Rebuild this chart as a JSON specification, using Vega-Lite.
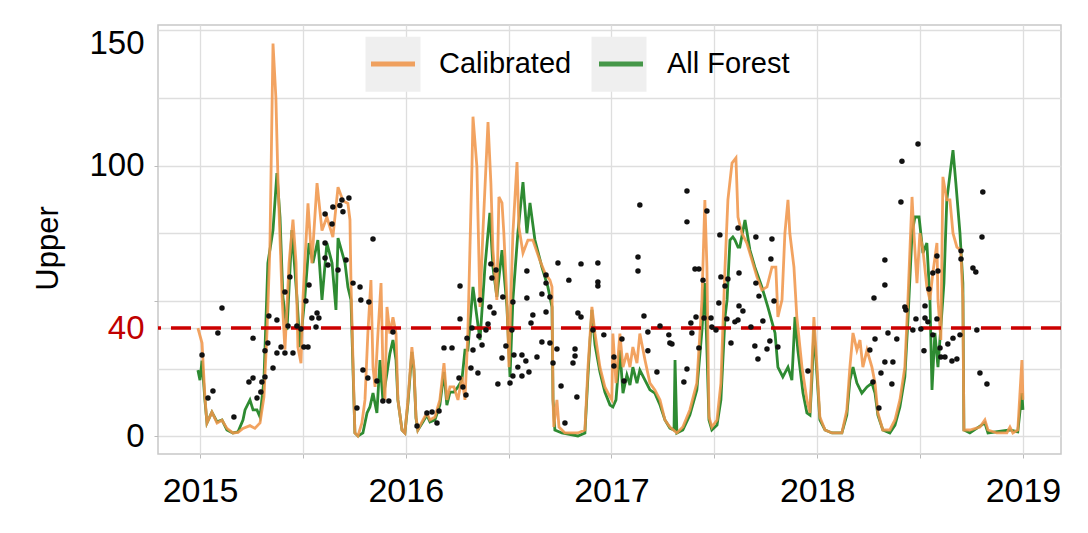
{
"$schema": "https://vega.github.io/schema/vega-lite/v6.json",
"width": 903, "height": 429,
"autosize": {"type": "none"},
"padding": {"left": 158, "top": 25, "right": 27, "bottom": 79},
"background": "white",
"config": {"view": {"stroke": "#c8c8c8", "strokeWidth": 1.5}, "font": "Liberation Sans"},
"datasets": {
"lines": [
{"s":"Calibrated","t":2014.990,"v":40},{"s":"Calibrated","t":2015.010,"v":34.5},{"s":"Calibrated","t":2015.024,"v":14.6},{"s":"Calibrated","t":2015.034,"v":5},{"s":"Calibrated","t":2015.058,"v":9},{"s":"Calibrated","t":2015.083,"v":5},{"s":"Calibrated","t":2015.107,"v":6},{"s":"Calibrated","t":2015.131,"v":3},{"s":"Calibrated","t":2015.160,"v":1.3},{"s":"Calibrated","t":2015.185,"v":1.5},{"s":"Calibrated","t":2015.209,"v":3},{"s":"Calibrated","t":2015.243,"v":4},{"s":"Calibrated","t":2015.267,"v":3},{"s":"Calibrated","t":2015.292,"v":5},{"s":"Calibrated","t":2015.311,"v":14.6},{"s":"Calibrated","t":2015.326,"v":39},{"s":"Calibrated","t":2015.340,"v":70},{"s":"Calibrated","t":2015.355,"v":145},{"s":"Calibrated","t":2015.369,"v":125},{"s":"Calibrated","t":2015.379,"v":95},{"s":"Calibrated","t":2015.399,"v":51.5},{"s":"Calibrated","t":2015.413,"v":32},{"s":"Calibrated","t":2015.433,"v":64},{"s":"Calibrated","t":2015.452,"v":80},{"s":"Calibrated","t":2015.467,"v":64},{"s":"Calibrated","t":2015.476,"v":33},{"s":"Calibrated","t":2015.491,"v":27},{"s":"Calibrated","t":2015.501,"v":51.5},{"s":"Calibrated","t":2015.525,"v":86},{"s":"Calibrated","t":2015.544,"v":64},{"s":"Calibrated","t":2015.569,"v":93.5},{"s":"Calibrated","t":2015.593,"v":76},{"s":"Calibrated","t":2015.617,"v":81},{"s":"Calibrated","t":2015.646,"v":73.6},{"s":"Calibrated","t":2015.671,"v":92},{"s":"Calibrated","t":2015.695,"v":87},{"s":"Calibrated","t":2015.719,"v":86},{"s":"Calibrated","t":2015.729,"v":80},{"s":"Calibrated","t":2015.734,"v":56.6},{"s":"Calibrated","t":2015.744,"v":27},{"s":"Calibrated","t":2015.753,"v":1.3},{"s":"Calibrated","t":2015.768,"v":0.2},{"s":"Calibrated","t":2015.787,"v":5},{"s":"Calibrated","t":2015.802,"v":13.5},{"s":"Calibrated","t":2015.816,"v":38},{"s":"Calibrated","t":2015.831,"v":57.7},{"s":"Calibrated","t":2015.841,"v":25.6},{"s":"Calibrated","t":2015.851,"v":18.3},{"s":"Calibrated","t":2015.865,"v":38},{"s":"Calibrated","t":2015.880,"v":56.6},{"s":"Calibrated","t":2015.889,"v":25.6},{"s":"Calibrated","t":2015.899,"v":13.5},{"s":"Calibrated","t":2015.909,"v":47.8},{"s":"Calibrated","t":2015.923,"v":38},{"s":"Calibrated","t":2015.938,"v":44},{"s":"Calibrated","t":2015.953,"v":38},{"s":"Calibrated","t":2015.962,"v":13.5},{"s":"Calibrated","t":2015.982,"v":2.4},{"s":"Calibrated","t":2015.996,"v":1.3},{"s":"Calibrated","t":2016.011,"v":13.5},{"s":"Calibrated","t":2016.030,"v":33},{"s":"Calibrated","t":2016.040,"v":25.6},{"s":"Calibrated","t":2016.050,"v":7.2},{"s":"Calibrated","t":2016.059,"v":2.4},{"s":"Calibrated","t":2016.084,"v":6.1},{"s":"Calibrated","t":2016.103,"v":8.7},{"s":"Calibrated","t":2016.118,"v":6.1},{"s":"Calibrated","t":2016.142,"v":7.2},{"s":"Calibrated","t":2016.166,"v":13.5},{"s":"Calibrated","t":2016.186,"v":27.1},{"s":"Calibrated","t":2016.200,"v":13.5},{"s":"Calibrated","t":2016.215,"v":18.3},{"s":"Calibrated","t":2016.234,"v":18.3},{"s":"Calibrated","t":2016.254,"v":13.5},{"s":"Calibrated","t":2016.273,"v":22},{"s":"Calibrated","t":2016.288,"v":13.5},{"s":"Calibrated","t":2016.302,"v":38},{"s":"Calibrated","t":2016.322,"v":99.5},{"s":"Calibrated","t":2016.327,"v":118},{"s":"Calibrated","t":2016.346,"v":99.5},{"s":"Calibrated","t":2016.361,"v":47.8},{"s":"Calibrated","t":2016.375,"v":75},{"s":"Calibrated","t":2016.400,"v":116},{"s":"Calibrated","t":2016.414,"v":93.5},{"s":"Calibrated","t":2016.424,"v":68.8},{"s":"Calibrated","t":2016.443,"v":50.4},{"s":"Calibrated","t":2016.453,"v":88.4},{"s":"Calibrated","t":2016.468,"v":86.2},{"s":"Calibrated","t":2016.477,"v":75},{"s":"Calibrated","t":2016.492,"v":50.4},{"s":"Calibrated","t":2016.502,"v":25.6},{"s":"Calibrated","t":2016.511,"v":50.4},{"s":"Calibrated","t":2016.521,"v":75},{"s":"Calibrated","t":2016.541,"v":101.3},{"s":"Calibrated","t":2016.550,"v":77.3},{"s":"Calibrated","t":2016.570,"v":67.7},{"s":"Calibrated","t":2016.594,"v":72.5},{"s":"Calibrated","t":2016.618,"v":72.5},{"s":"Calibrated","t":2016.652,"v":65},{"s":"Calibrated","t":2016.677,"v":60.3},{"s":"Calibrated","t":2016.701,"v":57.7},{"s":"Calibrated","t":2016.711,"v":55.2},{"s":"Calibrated","t":2016.716,"v":13.5},{"s":"Calibrated","t":2016.720,"v":3.5},{"s":"Calibrated","t":2016.735,"v":13.5},{"s":"Calibrated","t":2016.745,"v":3.5},{"s":"Calibrated","t":2016.774,"v":1.3},{"s":"Calibrated","t":2016.837,"v":1.3},{"s":"Calibrated","t":2016.871,"v":2.4},{"s":"Calibrated","t":2016.886,"v":25.6},{"s":"Calibrated","t":2016.905,"v":47.8},{"s":"Calibrated","t":2016.920,"v":38},{"s":"Calibrated","t":2016.944,"v":25.6},{"s":"Calibrated","t":2016.968,"v":18.3},{"s":"Calibrated","t":2016.993,"v":14.6},{"s":"Calibrated","t":2017.002,"v":13.5},{"s":"Calibrated","t":2017.007,"v":38},{"s":"Calibrated","t":2017.022,"v":19.7},{"s":"Calibrated","t":2017.041,"v":38},{"s":"Calibrated","t":2017.056,"v":25.6},{"s":"Calibrated","t":2017.075,"v":30.8},{"s":"Calibrated","t":2017.090,"v":25.6},{"s":"Calibrated","t":2017.104,"v":33},{"s":"Calibrated","t":2017.124,"v":27.1},{"s":"Calibrated","t":2017.138,"v":38},{"s":"Calibrated","t":2017.163,"v":28.2},{"s":"Calibrated","t":2017.187,"v":19.7},{"s":"Calibrated","t":2017.211,"v":17.2},{"s":"Calibrated","t":2017.236,"v":13.5},{"s":"Calibrated","t":2017.260,"v":6.1},{"s":"Calibrated","t":2017.284,"v":3.5},{"s":"Calibrated","t":2017.318,"v":1.3},{"s":"Calibrated","t":2017.347,"v":3.5},{"s":"Calibrated","t":2017.381,"v":9.8},{"s":"Calibrated","t":2017.415,"v":19.7},{"s":"Calibrated","t":2017.440,"v":50.4},{"s":"Calibrated","t":2017.454,"v":87.3},{"s":"Calibrated","t":2017.464,"v":62.5},{"s":"Calibrated","t":2017.474,"v":7.2},{"s":"Calibrated","t":2017.488,"v":3.5},{"s":"Calibrated","t":2017.513,"v":6.1},{"s":"Calibrated","t":2017.532,"v":19.7},{"s":"Calibrated","t":2017.552,"v":62.5},{"s":"Calibrated","t":2017.566,"v":87.3},{"s":"Calibrated","t":2017.586,"v":100.9},{"s":"Calibrated","t":2017.605,"v":102.8},{"s":"Calibrated","t":2017.615,"v":81},{"s":"Calibrated","t":2017.634,"v":75},{"s":"Calibrated","t":2017.658,"v":71.4},{"s":"Calibrated","t":2017.683,"v":65.1},{"s":"Calibrated","t":2017.707,"v":58.9},{"s":"Calibrated","t":2017.731,"v":54.1},{"s":"Calibrated","t":2017.756,"v":55.2},{"s":"Calibrated","t":2017.780,"v":62.5},{"s":"Calibrated","t":2017.799,"v":62.5},{"s":"Calibrated","t":2017.809,"v":44.1},{"s":"Calibrated","t":2017.829,"v":50.4},{"s":"Calibrated","t":2017.843,"v":75},{"s":"Calibrated","t":2017.858,"v":87.3},{"s":"Calibrated","t":2017.867,"v":75},{"s":"Calibrated","t":2017.887,"v":62.5},{"s":"Calibrated","t":2017.901,"v":44.1},{"s":"Calibrated","t":2017.926,"v":25.6},{"s":"Calibrated","t":2017.950,"v":13.5},{"s":"Calibrated","t":2017.965,"v":8.7},{"s":"Calibrated","t":2017.974,"v":25.6},{"s":"Calibrated","t":2017.984,"v":44.1},{"s":"Calibrated","t":2017.999,"v":25.6},{"s":"Calibrated","t":2018.013,"v":7.2},{"s":"Calibrated","t":2018.038,"v":2.4},{"s":"Calibrated","t":2018.072,"v":1.3},{"s":"Calibrated","t":2018.120,"v":1.3},{"s":"Calibrated","t":2018.144,"v":9.8},{"s":"Calibrated","t":2018.159,"v":25.6},{"s":"Calibrated","t":2018.174,"v":38.2},{"s":"Calibrated","t":2018.193,"v":31.9},{"s":"Calibrated","t":2018.208,"v":35.6},{"s":"Calibrated","t":2018.222,"v":25.6},{"s":"Calibrated","t":2018.242,"v":31.9},{"s":"Calibrated","t":2018.266,"v":25.6},{"s":"Calibrated","t":2018.281,"v":19.7},{"s":"Calibrated","t":2018.295,"v":8.7},{"s":"Calibrated","t":2018.319,"v":2.4},{"s":"Calibrated","t":2018.353,"v":2.4},{"s":"Calibrated","t":2018.378,"v":6.1},{"s":"Calibrated","t":2018.402,"v":13.5},{"s":"Calibrated","t":2018.426,"v":25.6},{"s":"Calibrated","t":2018.441,"v":50.4},{"s":"Calibrated","t":2018.461,"v":88.4},{"s":"Calibrated","t":2018.470,"v":75},{"s":"Calibrated","t":2018.485,"v":56.6},{"s":"Calibrated","t":2018.499,"v":75},{"s":"Calibrated","t":2018.514,"v":68.8},{"s":"Calibrated","t":2018.533,"v":55.2},{"s":"Calibrated","t":2018.548,"v":50.4},{"s":"Calibrated","t":2018.562,"v":60.3},{"s":"Calibrated","t":2018.582,"v":71.4},{"s":"Calibrated","t":2018.587,"v":50.4},{"s":"Calibrated","t":2018.601,"v":35.6},{"s":"Calibrated","t":2018.611,"v":95.8},{"s":"Calibrated","t":2018.630,"v":87.3},{"s":"Calibrated","t":2018.645,"v":87.3},{"s":"Calibrated","t":2018.660,"v":75},{"s":"Calibrated","t":2018.679,"v":69.9},{"s":"Calibrated","t":2018.698,"v":68.8},{"s":"Calibrated","t":2018.708,"v":50.4},{"s":"Calibrated","t":2018.713,"v":2.4},{"s":"Calibrated","t":2018.742,"v":2.4},{"s":"Calibrated","t":2018.791,"v":3.5},{"s":"Calibrated","t":2018.815,"v":6.1},{"s":"Calibrated","t":2018.830,"v":2.4},{"s":"Calibrated","t":2018.873,"v":1.3},{"s":"Calibrated","t":2018.922,"v":1.3},{"s":"Calibrated","t":2018.937,"v":3.5},{"s":"Calibrated","t":2018.951,"v":1.3},{"s":"Calibrated","t":2018.975,"v":2.4},{"s":"Calibrated","t":2018.995,"v":28.2},{"s":"Calibrated","t":2019.000,"v":13.5},
{"s":"All Forest","t":2014.990,"v":24.5},{"s":"All Forest","t":2015.000,"v":20.8},{"s":"All Forest","t":2015.010,"v":28},{"s":"All Forest","t":2015.024,"v":13.5},{"s":"All Forest","t":2015.034,"v":5},{"s":"All Forest","t":2015.058,"v":9},{"s":"All Forest","t":2015.083,"v":5.4},{"s":"All Forest","t":2015.107,"v":6.1},{"s":"All Forest","t":2015.131,"v":2.4},{"s":"All Forest","t":2015.160,"v":1.3},{"s":"All Forest","t":2015.185,"v":1.7},{"s":"All Forest","t":2015.209,"v":6.1},{"s":"All Forest","t":2015.219,"v":9.8},{"s":"All Forest","t":2015.243,"v":13.5},{"s":"All Forest","t":2015.258,"v":9.8},{"s":"All Forest","t":2015.277,"v":9.8},{"s":"All Forest","t":2015.292,"v":7.2},{"s":"All Forest","t":2015.311,"v":20.8},{"s":"All Forest","t":2015.330,"v":64},{"s":"All Forest","t":2015.355,"v":76.2},{"s":"All Forest","t":2015.374,"v":97.2},{"s":"All Forest","t":2015.389,"v":81},{"s":"All Forest","t":2015.403,"v":51.5},{"s":"All Forest","t":2015.423,"v":39.3},{"s":"All Forest","t":2015.447,"v":76.2},{"s":"All Forest","t":2015.471,"v":51.5},{"s":"All Forest","t":2015.486,"v":33},{"s":"All Forest","t":2015.510,"v":51.5},{"s":"All Forest","t":2015.530,"v":71.4},{"s":"All Forest","t":2015.549,"v":64},{"s":"All Forest","t":2015.573,"v":72.5},{"s":"All Forest","t":2015.593,"v":50.4},{"s":"All Forest","t":2015.617,"v":71.4},{"s":"All Forest","t":2015.642,"v":64},{"s":"All Forest","t":2015.661,"v":46.7},{"s":"All Forest","t":2015.671,"v":73.2},{"s":"All Forest","t":2015.705,"v":64},{"s":"All Forest","t":2015.719,"v":55.2},{"s":"All Forest","t":2015.734,"v":50.4},{"s":"All Forest","t":2015.744,"v":24.5},{"s":"All Forest","t":2015.753,"v":1.3},{"s":"All Forest","t":2015.768,"v":0.2},{"s":"All Forest","t":2015.792,"v":1.3},{"s":"All Forest","t":2015.812,"v":8.7},{"s":"All Forest","t":2015.826,"v":10.9},{"s":"All Forest","t":2015.841,"v":16},{"s":"All Forest","t":2015.860,"v":8.7},{"s":"All Forest","t":2015.875,"v":28.2},{"s":"All Forest","t":2015.889,"v":13.5},{"s":"All Forest","t":2015.909,"v":23.4},{"s":"All Forest","t":2015.923,"v":30.6},{"s":"All Forest","t":2015.938,"v":35.6},{"s":"All Forest","t":2015.953,"v":28.2},{"s":"All Forest","t":2015.962,"v":13.5},{"s":"All Forest","t":2015.982,"v":2.4},{"s":"All Forest","t":2015.996,"v":1.3},{"s":"All Forest","t":2016.011,"v":12.4},{"s":"All Forest","t":2016.030,"v":31.2},{"s":"All Forest","t":2016.040,"v":24.5},{"s":"All Forest","t":2016.050,"v":6.8},{"s":"All Forest","t":2016.059,"v":2.4},{"s":"All Forest","t":2016.084,"v":5.4},{"s":"All Forest","t":2016.103,"v":7.9},{"s":"All Forest","t":2016.118,"v":5.4},{"s":"All Forest","t":2016.142,"v":6.1},{"s":"All Forest","t":2016.166,"v":11.6},{"s":"All Forest","t":2016.186,"v":23.8},{"s":"All Forest","t":2016.200,"v":11.6},{"s":"All Forest","t":2016.215,"v":16.4},{"s":"All Forest","t":2016.234,"v":16.4},{"s":"All Forest","t":2016.254,"v":18.3},{"s":"All Forest","t":2016.273,"v":20.8},{"s":"All Forest","t":2016.288,"v":31.9},{"s":"All Forest","t":2016.302,"v":31.9},{"s":"All Forest","t":2016.327,"v":55.2},{"s":"All Forest","t":2016.346,"v":44.1},{"s":"All Forest","t":2016.361,"v":35.6},{"s":"All Forest","t":2016.385,"v":62.5},{"s":"All Forest","t":2016.409,"v":82.5},{"s":"All Forest","t":2016.424,"v":62.5},{"s":"All Forest","t":2016.443,"v":51.5},{"s":"All Forest","t":2016.468,"v":68.8},{"s":"All Forest","t":2016.492,"v":47.8},{"s":"All Forest","t":2016.507,"v":22},{"s":"All Forest","t":2016.521,"v":50.4},{"s":"All Forest","t":2016.545,"v":75},{"s":"All Forest","t":2016.570,"v":93.9},{"s":"All Forest","t":2016.589,"v":75},{"s":"All Forest","t":2016.604,"v":86.2},{"s":"All Forest","t":2016.628,"v":72.5},{"s":"All Forest","t":2016.662,"v":62.5},{"s":"All Forest","t":2016.691,"v":55.2},{"s":"All Forest","t":2016.711,"v":47.8},{"s":"All Forest","t":2016.716,"v":13.5},{"s":"All Forest","t":2016.725,"v":2.4},{"s":"All Forest","t":2016.759,"v":1.3},{"s":"All Forest","t":2016.837,"v":0.2},{"s":"All Forest","t":2016.871,"v":1.3},{"s":"All Forest","t":2016.886,"v":22.7},{"s":"All Forest","t":2016.905,"v":46.7},{"s":"All Forest","t":2016.920,"v":33.8},{"s":"All Forest","t":2016.944,"v":23.8},{"s":"All Forest","t":2016.968,"v":16.4},{"s":"All Forest","t":2016.993,"v":11.6},{"s":"All Forest","t":2017.007,"v":10.9},{"s":"All Forest","t":2017.022,"v":13.5},{"s":"All Forest","t":2017.041,"v":31.9},{"s":"All Forest","t":2017.056,"v":16},{"s":"All Forest","t":2017.075,"v":22.7},{"s":"All Forest","t":2017.090,"v":19},{"s":"All Forest","t":2017.104,"v":25.6},{"s":"All Forest","t":2017.124,"v":19.7},{"s":"All Forest","t":2017.138,"v":24.5},{"s":"All Forest","t":2017.163,"v":20.8},{"s":"All Forest","t":2017.187,"v":17.2},{"s":"All Forest","t":2017.211,"v":16},{"s":"All Forest","t":2017.236,"v":11.6},{"s":"All Forest","t":2017.260,"v":6.1},{"s":"All Forest","t":2017.284,"v":3.1},{"s":"All Forest","t":2017.304,"v":2.4},{"s":"All Forest","t":2017.309,"v":28.2},{"s":"All Forest","t":2017.318,"v":1.3},{"s":"All Forest","t":2017.347,"v":2.4},{"s":"All Forest","t":2017.381,"v":7.9},{"s":"All Forest","t":2017.415,"v":17.2},{"s":"All Forest","t":2017.440,"v":39.3},{"s":"All Forest","t":2017.454,"v":56.6},{"s":"All Forest","t":2017.464,"v":31.9},{"s":"All Forest","t":2017.474,"v":6.1},{"s":"All Forest","t":2017.488,"v":2.4},{"s":"All Forest","t":2017.513,"v":4.2},{"s":"All Forest","t":2017.532,"v":13.5},{"s":"All Forest","t":2017.552,"v":44.1},{"s":"All Forest","t":2017.562,"v":50.4},{"s":"All Forest","t":2017.576,"v":72.5},{"s":"All Forest","t":2017.590,"v":73.6},{"s":"All Forest","t":2017.600,"v":72.5},{"s":"All Forest","t":2017.615,"v":69.9},{"s":"All Forest","t":2017.624,"v":69.9},{"s":"All Forest","t":2017.649,"v":79.9},{"s":"All Forest","t":2017.673,"v":68.8},{"s":"All Forest","t":2017.697,"v":62.5},{"s":"All Forest","t":2017.731,"v":55.2},{"s":"All Forest","t":2017.760,"v":47.8},{"s":"All Forest","t":2017.795,"v":38.2},{"s":"All Forest","t":2017.809,"v":25.6},{"s":"All Forest","t":2017.833,"v":22},{"s":"All Forest","t":2017.858,"v":25.6},{"s":"All Forest","t":2017.877,"v":20.8},{"s":"All Forest","t":2017.892,"v":44.1},{"s":"All Forest","t":2017.906,"v":31.9},{"s":"All Forest","t":2017.931,"v":16},{"s":"All Forest","t":2017.950,"v":8.7},{"s":"All Forest","t":2017.965,"v":7.9},{"s":"All Forest","t":2017.974,"v":20.8},{"s":"All Forest","t":2017.984,"v":39.3},{"s":"All Forest","t":2017.999,"v":22.7},{"s":"All Forest","t":2018.013,"v":6.1},{"s":"All Forest","t":2018.038,"v":2.4},{"s":"All Forest","t":2018.072,"v":1.3},{"s":"All Forest","t":2018.120,"v":1.3},{"s":"All Forest","t":2018.144,"v":7.9},{"s":"All Forest","t":2018.159,"v":20.8},{"s":"All Forest","t":2018.174,"v":25.6},{"s":"All Forest","t":2018.193,"v":19.7},{"s":"All Forest","t":2018.217,"v":16},{"s":"All Forest","t":2018.242,"v":18.3},{"s":"All Forest","t":2018.266,"v":19.7},{"s":"All Forest","t":2018.281,"v":16},{"s":"All Forest","t":2018.295,"v":7.9},{"s":"All Forest","t":2018.319,"v":2.4},{"s":"All Forest","t":2018.353,"v":1.3},{"s":"All Forest","t":2018.378,"v":4.2},{"s":"All Forest","t":2018.402,"v":10.9},{"s":"All Forest","t":2018.426,"v":22},{"s":"All Forest","t":2018.441,"v":43},{"s":"All Forest","t":2018.461,"v":75},{"s":"All Forest","t":2018.475,"v":81},{"s":"All Forest","t":2018.495,"v":81},{"s":"All Forest","t":2018.514,"v":67.7},{"s":"All Forest","t":2018.533,"v":71.4},{"s":"All Forest","t":2018.548,"v":50.4},{"s":"All Forest","t":2018.558,"v":17.2},{"s":"All Forest","t":2018.572,"v":38.2},{"s":"All Forest","t":2018.587,"v":25.6},{"s":"All Forest","t":2018.601,"v":40.4},{"s":"All Forest","t":2018.616,"v":56.6},{"s":"All Forest","t":2018.630,"v":87.3},{"s":"All Forest","t":2018.660,"v":105.7},{"s":"All Forest","t":2018.674,"v":93.5},{"s":"All Forest","t":2018.694,"v":75},{"s":"All Forest","t":2018.708,"v":56.6},{"s":"All Forest","t":2018.713,"v":2.4},{"s":"All Forest","t":2018.742,"v":1.3},{"s":"All Forest","t":2018.815,"v":5},{"s":"All Forest","t":2018.830,"v":1.3},{"s":"All Forest","t":2018.937,"v":2.4},{"s":"All Forest","t":2018.975,"v":1.7},{"s":"All Forest","t":2018.995,"v":16},{"s":"All Forest","t":2019.000,"v":9.8}
],
"obs": [
{"t":2015.010,"v":30.1},{"t":2015.039,"v":14.2},{"t":2015.063,"v":16.8},{"t":2015.107,"v":47.4},{"t":2015.087,"v":38.2},{"t":2015.165,"v":7.2},{"t":2015.238,"v":20.1},{"t":2015.258,"v":21.6},{"t":2015.258,"v":36.3},{"t":2015.277,"v":14.2},{"t":2015.296,"v":16.4},{"t":2015.301,"v":20.1},{"t":2015.316,"v":22},{"t":2015.316,"v":31.6},{"t":2015.330,"v":34.5},{"t":2015.335,"v":44.5},{"t":2015.355,"v":25.3},{"t":2015.374,"v":43},{"t":2015.374,"v":30.8},{"t":2015.394,"v":33},{"t":2015.413,"v":53.3},{"t":2015.413,"v":30.8},{"t":2015.428,"v":40.8},{"t":2015.437,"v":58.9},{"t":2015.452,"v":30.8},{"t":2015.471,"v":40.8},{"t":2015.491,"v":39.7},{"t":2015.505,"v":33},{"t":2015.525,"v":33},{"t":2015.515,"v":50},{"t":2015.530,"v":55.9},{"t":2015.544,"v":43.7},{"t":2015.569,"v":45.6},{"t":2015.578,"v":43.7},{"t":2015.564,"v":40.4},{"t":2015.608,"v":82.1},{"t":2015.646,"v":84.7},{"t":2015.642,"v":78.4},{"t":2015.608,"v":71.4},{"t":2015.608,"v":65.9},{"t":2015.622,"v":63.3},{"t":2015.690,"v":87.3},{"t":2015.695,"v":82.9},{"t":2015.724,"v":88},{"t":2015.680,"v":85.2},{"t":2015.671,"v":61.4},{"t":2015.710,"v":65.1},{"t":2015.744,"v":56.6},{"t":2015.778,"v":55.2},{"t":2015.782,"v":50.4},{"t":2015.821,"v":49.6},{"t":2015.841,"v":72.9},{"t":2015.792,"v":24.5},{"t":2015.816,"v":21.6},{"t":2015.860,"v":20.5},{"t":2015.889,"v":13.1},{"t":2015.918,"v":13.1},{"t":2015.938,"v":38.6},{"t":2015.763,"v":10.5},
{"t":2016.055,"v":3.9},{"t":2016.103,"v":8.7},{"t":2016.128,"v":9},{"t":2016.152,"v":5},{"t":2016.162,"v":9.4},{"t":2016.186,"v":32.7},{"t":2016.225,"v":32.7},{"t":2016.264,"v":55.5},{"t":2016.264,"v":43.4},{"t":2016.298,"v":36.3},{"t":2016.259,"v":21.6},{"t":2016.278,"v":18.3},{"t":2016.293,"v":15.3},{"t":2016.327,"v":31.9},{"t":2016.322,"v":40},
{"t":2016.317,"v":25.3},{"t":2016.351,"v":23.4},{"t":2016.361,"v":50.4},{"t":2016.356,"v":37.1},{"t":2016.371,"v":33.8},{"t":2016.400,"v":41.5},{"t":2016.390,"v":39.3},{"t":2016.414,"v":63.7},{"t":2016.419,"v":58.5},{"t":2016.439,"v":61.4},{"t":2016.409,"v":47.8},{"t":2016.429,"v":45.6},{"t":2016.448,"v":19.4},{"t":2016.468,"v":29},{"t":2016.472,"v":51.5},{"t":2016.487,"v":33.4},{"t":2016.507,"v":19.7},{"t":2016.516,"v":39.3},{"t":2016.521,"v":49.6},{"t":2016.521,"v":22.3},{"t":2016.526,"v":30.1},{"t":2016.545,"v":25.6},{"t":2016.565,"v":30.1},{"t":2016.565,"v":22.3},{"t":2016.584,"v":27.9},{"t":2016.599,"v":23.8},{"t":2016.589,"v":61.1},{"t":2016.589,"v":51.1},{"t":2016.609,"v":41.9},{"t":2016.618,"v":44.8},{"t":2016.638,"v":29.3},{"t":2016.662,"v":52.6},{"t":2016.662,"v":34.9},{"t":2016.682,"v":59.6},{"t":2016.682,"v":56.6},{"t":2016.682,"v":45.9},{"t":2016.701,"v":51.5},{"t":2016.701,"v":34.5},{"t":2016.716,"v":27.1},{"t":2016.735,"v":32.3},{"t":2016.740,"v":64},{"t":2016.755,"v":18.6},{"t":2016.774,"v":5},{"t":2016.793,"v":57.7},{"t":2016.813,"v":27.1},{"t":2016.823,"v":32.3},{"t":2016.823,"v":29.7},{"t":2016.832,"v":14.6},{"t":2016.837,"v":45.6},{"t":2016.852,"v":44.1},{"t":2016.852,"v":63.7},{"t":2016.934,"v":64},{"t":2016.934,"v":57},{"t":2016.934,"v":55.5},{"t":2016.963,"v":37.5},{"t":2016.910,"v":39.3},
{"t":2017.012,"v":29.3},{"t":2017.012,"v":26},{"t":2017.051,"v":36},{"t":2017.061,"v":20.5},{"t":2017.138,"v":85.4},{"t":2017.129,"v":66.2},{"t":2017.129,"v":61.1},{"t":2017.158,"v":44.5},{"t":2017.177,"v":38.6},{"t":2017.177,"v":31.6},{"t":2017.221,"v":23.8},{"t":2017.236,"v":40.8},{"t":2017.279,"v":37.5},{"t":2017.284,"v":34.5},{"t":2017.294,"v":34.1},{"t":2017.367,"v":90.6},{"t":2017.367,"v":79.2},{"t":2017.367,"v":24.9},{"t":2017.352,"v":20.1},{"t":2017.386,"v":41.9},{"t":2017.391,"v":38.2},{"t":2017.406,"v":61.8},{"t":2017.425,"v":61.8},{"t":2017.411,"v":44.1},{"t":2017.425,"v":32.7},{"t":2017.445,"v":57.7},{"t":2017.464,"v":83.2},{"t":2017.450,"v":43.7},{"t":2017.484,"v":43.7},{"t":2017.488,"v":40.4},{"t":2017.508,"v":39.3},{"t":2017.522,"v":49.3},{"t":2017.527,"v":74.4},{"t":2017.532,"v":58.9},{"t":2017.552,"v":55.5},{"t":2017.566,"v":58.1},{"t":2017.561,"v":43.4},{"t":2017.581,"v":34.5},{"t":2017.600,"v":42.3},{"t":2017.615,"v":43},{"t":2017.620,"v":60.3},{"t":2017.620,"v":48.2},{"t":2017.639,"v":46.3},{"t":2017.615,"v":76.9},{"t":2017.702,"v":73.6},{"t":2017.780,"v":72.9},{"t":2017.775,"v":65.5},{"t":2017.702,"v":56.6},{"t":2017.717,"v":51.8},{"t":2017.790,"v":50},{"t":2017.736,"v":42.6},{"t":2017.678,"v":40.4},{"t":2017.697,"v":33.4},{"t":2017.770,"v":35.2},{"t":2017.756,"v":32.3},{"t":2017.712,"v":28.6},{"t":2017.809,"v":33},{"t":2017.955,"v":24.2},
{"t":2018.276,"v":51.1},{"t":2018.281,"v":36},{"t":2018.256,"v":31.9},{"t":2018.271,"v":20.1},{"t":2018.310,"v":23.4},{"t":2018.300,"v":10.5},{"t":2018.490,"v":107.9},{"t":2018.412,"v":101.6},{"t":2018.407,"v":86.5},{"t":2018.329,"v":65.1},{"t":2018.329,"v":55.9},{"t":2018.329,"v":27.5},{"t":2018.368,"v":27.5},{"t":2018.363,"v":19.4},{"t":2018.344,"v":38.2},{"t":2018.387,"v":36},{"t":2018.426,"v":47.8},{"t":2018.431,"v":46.7},{"t":2018.480,"v":43.4},{"t":2018.465,"v":39.3},{"t":2018.504,"v":39.7},{"t":2018.524,"v":48.2},{"t":2018.524,"v":43.7},{"t":2018.543,"v":54.4},{"t":2018.538,"v":42.3},{"t":2018.562,"v":60.3},{"t":2018.587,"v":61.1},{"t":2018.582,"v":66.6},{"t":2018.562,"v":37.5},{"t":2018.582,"v":43.4},{"t":2018.519,"v":31.6},{"t":2018.597,"v":32.7},{"t":2018.601,"v":29.3},{"t":2018.621,"v":29.3},{"t":2018.635,"v":34.1},{"t":2018.660,"v":36.3},{"t":2018.694,"v":37.5},{"t":2018.655,"v":27.9},{"t":2018.679,"v":28.6},{"t":2018.699,"v":68.5},{"t":2018.699,"v":65.5},{"t":2018.757,"v":62.2},{"t":2018.771,"v":60.7},{"t":2018.776,"v":39.3},{"t":2018.805,"v":90.2},{"t":2018.801,"v":73.6},{"t":2018.791,"v":23.4},{"t":2018.825,"v":19.4}
],
"limit": [{"limit": 40}]
},
"layer": [
{"data": {"name": "lines"},
 "transform": [{"filter": "datum.v < -100"}],
 "mark": {"type": "square"},
 "encoding": {
  "x": {"field": "t", "type": "quantitative",
        "scale": {"domain": [2014.796, 2019.185], "nice": false, "zero": false},
        "axis": {"values": [2015, 2015.5, 2016, 2016.5, 2017, 2017.5, 2018, 2018.5, 2019],
                 "labelExpr": "datum.value % 1 == 0 ? format(datum.value, 'd') : ''",
                 "title": null, "labelFontSize": 34, "labelFont": "Liberation Sans", "labelColor": "black",
                 "labelPadding": 16, "tickSize": 4, "tickColor": "#bbbbbb",
                 "grid": true, "gridColor": "#dedede", "gridWidth": 1.3,
                 "domain": false, "labelFlush": false, "labelOverlap": false}},
  "y": {"field": "v", "type": "quantitative",
        "scale": {"domain": [-6.46, 151.85], "nice": false, "zero": false},
        "axis": {"values": [0, 25, 40, 50, 75, 100, 125, 145, 150],
                 "labelExpr": "datum.value == 145 ? '150' : (datum.value == 0 || datum.value == 40 || datum.value == 100) ? datum.label : ''",
                 "labelColor": {"condition": {"test": "datum.value == 40", "value": "#c00000"}, "value": "black"},
                 "labelFontSize": 33, "labelFont": "Liberation Sans", "labelPadding": 10,
                 "title": "Upper", "titleFontSize": 31, "titleFontWeight": "normal", "titleColor": "black",
                 "titleFont": "Liberation Sans", "titlePadding": 24, "titleY": 223,
                 "tickSize": 4, "tickColor": "#bbbbbb",
                 "tickOpacity": {"condition": {"test": "datum.value == 0 || datum.value == 50 || datum.value == 100", "value": 1}, "value": 0},
                 "grid": true, "gridColor": "#dedede", "gridWidth": 1.3,
                 "gridOpacity": {"condition": {"test": "datum.value == 145", "value": 0}, "value": 1},
                 "domain": false, "labelFlush": false, "labelOverlap": false}},
  "color": {"field": "s", "type": "nominal",
            "scale": {"domain": ["Calibrated", "All Forest"], "range": ["#efefef", "#efefef"]},
            "legend": {"title": null, "orient": "none", "legendX": 205, "legendY": 9, "direction": "horizontal",
                       "symbolType": "square", "symbolSize": 3025, "symbolStrokeWidth": 5, "symbolStrokeColor": "transparent",
                       "symbolOpacity": 1,
                       "labelExpr": "''", "labelFontSize": 29, "labelOffset": 0, "columnPadding": 150, "padding": 0}}
 }
},
{"data": {"name": "lines"},
 "transform": [{"filter": "datum.s == 'All Forest'"}],
 "mark": {"type": "line", "strokeWidth": 2.8},
 "encoding": {
  "x": {"field": "t", "type": "quantitative"},
  "y": {"field": "v", "type": "quantitative"},
  "stroke": {"field": "s", "type": "nominal", "sort": ["Calibrated", "All Forest"],
             "scale": {"range": ["#f0964b", "#2e8b32"]},
             "legend": {"title": null, "orient": "none", "legendX": 205, "legendY": 9, "direction": "horizontal",
                        "symbolType": "M-0.8,0L0.8,0", "symbolSize": 3025, "symbolStrokeWidth": 5,
                        "labelFontSize": 29, "labelFont": "Liberation Sans", "labelColor": "black",
                        "labelOffset": 16, "columnPadding": 17, "padding": 0}}
 }
},
{"data": {"name": "lines"},
 "transform": [{"filter": "datum.s == 'Calibrated'"}],
 "mark": {"type": "line", "strokeWidth": 2.8, "opacity": 0.88},
 "encoding": {
  "x": {"field": "t", "type": "quantitative"},
  "y": {"field": "v", "type": "quantitative"},
  "stroke": {"field": "s", "type": "nominal", "sort": ["Calibrated", "All Forest"]}
 }
},
{"data": {"name": "limit"},
 "mark": {"type": "rule", "color": "#cc0000", "strokeWidth": 3.5, "strokeDash": [20, 10]},
 "encoding": {"y": {"field": "limit", "type": "quantitative"}}
},
{"data": {"name": "obs"},
 "mark": {"type": "circle", "color": "#111111", "size": 30, "opacity": 1},
 "encoding": {
  "x": {"field": "t", "type": "quantitative"},
  "y": {"field": "v", "type": "quantitative"}
 }
}
]
}
